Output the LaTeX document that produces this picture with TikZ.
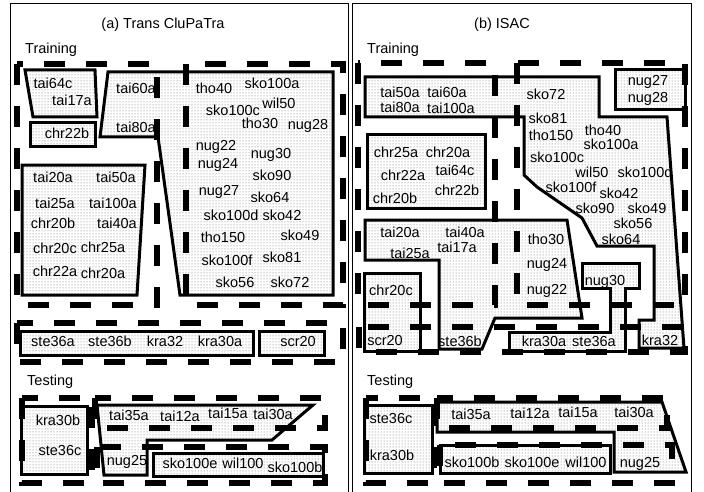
\documentclass[tikz,border=0pt]{standalone}
\usepackage{fontspec}
\setmainfont{Liberation Sans}
\usetikzlibrary{patterns}
\begin{document}
\begin{tikzpicture}[x=1pt,y=-1pt,
  region/.style={pattern=dots, pattern color=black!60, draw=black, line width=3pt, line join=miter},
  clus/.style={draw=black, line width=5.5pt, dash pattern=on 21pt off 21pt},
  frame/.style={draw=black, line width=0.8pt},
  lbl/.style={inner sep=0pt, text height=10.4pt, text depth=0pt, font=\fontsize{14.5}{16}\selectfont},
  head/.style={inner sep=0pt, text height=10.4pt, text depth=0pt, font=\fontsize{14.5}{16}\selectfont}]
\useasboundingbox (0,0) rectangle (704,492);
% frames
\draw[frame] (10,492) -- (10,3) -- (348,3) -- (348,492);
\draw[frame] (352,492) -- (352,3) -- (691,3) -- (691,492);
\node[head] (ta) at (163,23) {(a) Trans CluPaTra};
\node[head] (tb) at (502,23) {(b) ISAC};
\node[head,anchor=west] (trA) at (25,48) {Training};
\node[head,anchor=west] (teA) at (27,380) {Testing};
\node[head,anchor=west] (trB) at (367,48) {Training};
\node[head,anchor=west] (teB) at (367,380) {Testing};

% ---------- left regions ----------
\draw[region] (25,70) -- (95,70) -- (97,117) -- (33,117) -- cycle;
\draw[region] (30,123) rectangle (95,147);
\draw[region] (22,165) -- (145,165) -- (137,295) -- (22,295) -- cycle;
\draw[region] (108,72) -- (333,72) -- (333,295) -- (180,295) -- (158,137) -- (100,137) -- cycle;
\draw[region] (20,331) rectangle (253,355);
\draw[region] (259,331) rectangle (324,355);
\draw[region] (21,406) rectangle (87,474);
\draw[region] (97,405) -- (313,405) -- (272,440) -- (147,440) -- (147,475) -- (104,475) -- cycle;
\draw[region] (153,453) rectangle (323,476);

% ---------- right regions ----------
\draw[region] (365,77) -- (599,77) -- (599,117) -- (667,117) -- (684,348) -- (639,348) -- (639,320) -- (654,320) -- (654,246) -- (597,246) -- (582,218) -- (537,187) -- (524,175) -- (524,117) -- (365,117) -- cycle;
\draw[region] (365,220) -- (567,220) -- (582,318) -- (495,318) -- (482,349) -- (439,349) -- (439,260) -- (365,260) -- cycle;
\draw[region] (367,135) rectangle (485,208);
\draw[region] (364,273) rectangle (420,351);
\draw[region] (615,70) rectangle (685,110);
\draw[region] (582,263) -- (639,263) -- (639,288) -- (625,288) -- (625,351) -- (509,351) -- (509,332) -- (610,332) -- (610,288) -- (582,288) -- cycle;
\draw[region] (364,405) rectangle (432,473);
\draw[region] (437,402) -- (662,402) -- (686,472) -- (614,472) -- (614,432) -- (437,432) -- cycle;
\draw[region] (440,445) rectangle (610,473);

% ---------- dashed clusters ----------
\draw[clus] (17,64) rectangle (157,305);
\draw[clus] (186,64) rectangle (343,305);
\draw[clus] (17,323) rectangle (343,362);
\draw[clus] (22,398) rectangle (92,483);
\draw[clus] (95,398) rectangle (325,428);
\draw[clus] (97,447) rectangle (325,483);

\draw[clus] (358,63) rectangle (495,305);
\draw[clus] (517,63) rectangle (685,305);
\draw[clus] (359,327) rectangle (685,352);
\draw[clus] (366,398) rectangle (434,483);
\draw[clus] (437,398) rectangle (667,428);
\draw[clus] (440,445) rectangle (672,483);

% ---------- left labels ----------
\node[lbl] (a1) at (53,83) {tai64c};
\node[lbl] (a2) at (72,100) {tai17a};
\node[lbl] (a3) at (67,133) {chr22b};
\node[lbl] (a4) at (136,88) {tai60a};
\node[lbl] (a5) at (136,127) {tai80a};
\node[lbl] (a6) at (214,88) {tho40};
\node[lbl] (a7) at (272,83) {sko100a};
\node[lbl] (a8) at (233,110) {sko100c};
\node[lbl] (a9) at (279,103) {wil50};
\node[lbl] (a10) at (260,123) {tho30};
\node[lbl] (a11) at (308,124) {nug28};
\node[lbl] (a12) at (216,145) {nug22};
\node[lbl] (a13) at (271,153) {nug30};
\node[lbl] (a14) at (218,163) {nug24};
\node[lbl] (a15) at (272,175) {sko90};
\node[lbl] (a16) at (219,190) {nug27};
\node[lbl] (a17) at (270,197) {sko64};
\node[lbl] (a18) at (231,215) {sko100d};
\node[lbl] (a19) at (282,215) {sko42};
\node[lbl] (a20) at (223,237) {tho150};
\node[lbl] (a21) at (300,235) {sko49};
\node[lbl] (a22) at (227,260) {sko100f};
\node[lbl] (a23) at (282,257) {sko81};
\node[lbl] (a24) at (235,282) {sko56};
\node[lbl] (a25) at (290,282) {sko72};
\node[lbl] (a26) at (53,177) {tai20a};
\node[lbl] (a27) at (116,177) {tai50a};
\node[lbl] (a28) at (55,203) {tai25a};
\node[lbl] (a29) at (113,203) {tai100a};
\node[lbl] (a30) at (53,223) {chr20b};
\node[lbl] (a31) at (117,223) {tai40a};
\node[lbl] (a32) at (55,248) {chr20c};
\node[lbl] (a33) at (103,247) {chr25a};
\node[lbl] (a34) at (55,271) {chr22a};
\node[lbl] (a35) at (103,273) {chr20a};
\node[lbl] (a36) at (53,341) {ste36a};
\node[lbl] (a37) at (110,341) {ste36b};
\node[lbl] (a38) at (165,341) {kra32};
\node[lbl] (a39) at (220,341) {kra30a};
\node[lbl] (a40) at (298,341) {scr20};
\node[lbl] (a41) at (58,420) {kra30b};
\node[lbl] (a42) at (60,450) {ste36c};
\node[lbl] (a43) at (129,415) {tai35a};
\node[lbl] (a44) at (180,416) {tai12a};
\node[lbl] (a45) at (228,413) {tai15a};
\node[lbl] (a46) at (273,414) {tai30a};
\node[lbl] (a47) at (127,460) {nug25};
\node[lbl] (a48) at (190,463) {sko100e};
\node[lbl] (a49) at (243,463) {wil100};
\node[lbl] (a50) at (295,467) {sko100b};

% ---------- right labels ----------
\node[lbl] (b1) at (400,92) {tai50a};
\node[lbl] (b2) at (447,92) {tai60a};
\node[lbl] (b3) at (400,107) {tai80a};
\node[lbl] (b4) at (451,108) {tai100a};
\node[lbl] (b5) at (546,94) {sko72};
\node[lbl] (b6) at (548,118) {sko81};
\node[lbl] (b7) at (551,135) {tho150};
\node[lbl] (b8) at (603,130) {tho40};
\node[lbl] (b9) at (611,144) {sko100a};
\node[lbl] (b10) at (557,157) {sko100c};
\node[lbl] (b11) at (592,172) {wil50};
\node[lbl] (b12) at (645,172) {sko100d};
\node[lbl] (b13) at (571,187) {sko100f};
\node[lbl] (b14) at (619,193) {sko42};
\node[lbl] (b15) at (595,208) {sko90};
\node[lbl] (b16) at (647,208) {sko49};
\node[lbl] (b17) at (633,223) {sko56};
\node[lbl] (b18) at (621,239) {sko64};
\node[lbl] (b19) at (648,80) {nug27};
\node[lbl] (b20) at (648,97) {nug28};
\node[lbl] (b21) at (396,152) {chr25a};
\node[lbl] (b22) at (448,152) {chr20a};
\node[lbl] (b23) at (403,175) {chr22a};
\node[lbl] (b24) at (455,170) {tai64c};
\node[lbl] (b25) at (457,190) {chr22b};
\node[lbl] (b26) at (395,198) {chr20b};
\node[lbl] (b27) at (400,232) {tai20a};
\node[lbl] (b28) at (465,232) {tai40a};
\node[lbl] (b29) at (457,247) {tai17a};
\node[lbl] (b30) at (410,253) {tai25a};
\node[lbl] (b31) at (546,239) {tho30};
\node[lbl] (b32) at (547,263) {nug24};
\node[lbl] (b33) at (547,289) {nug22};
\node[lbl] (b34) at (605,280) {nug30};
\node[lbl] (b35) at (391,290) {chr20c};
\node[lbl] (b36) at (385,340) {scr20};
\node[lbl] (b37) at (460,341) {ste36b};
\node[lbl] (b38) at (544,341) {kra30a};
\node[lbl] (b39) at (594,341) {ste36a};
\node[lbl] (b40) at (660,340) {kra32};
\node[lbl] (b41) at (391,418) {ste36c};
\node[lbl] (b42) at (392,455) {kra30b};
\node[lbl] (b43) at (471,414) {tai35a};
\node[lbl] (b44) at (530,413) {tai12a};
\node[lbl] (b45) at (578,412) {tai15a};
\node[lbl] (b46) at (634,412) {tai30a};
\node[lbl] (b47) at (472,462) {sko100b};
\node[lbl] (b48) at (532,462) {sko100e};
\node[lbl] (b49) at (586,462) {wil100};
\node[lbl] (b50) at (640,462) {nug25};
\end{tikzpicture}
\end{document}
